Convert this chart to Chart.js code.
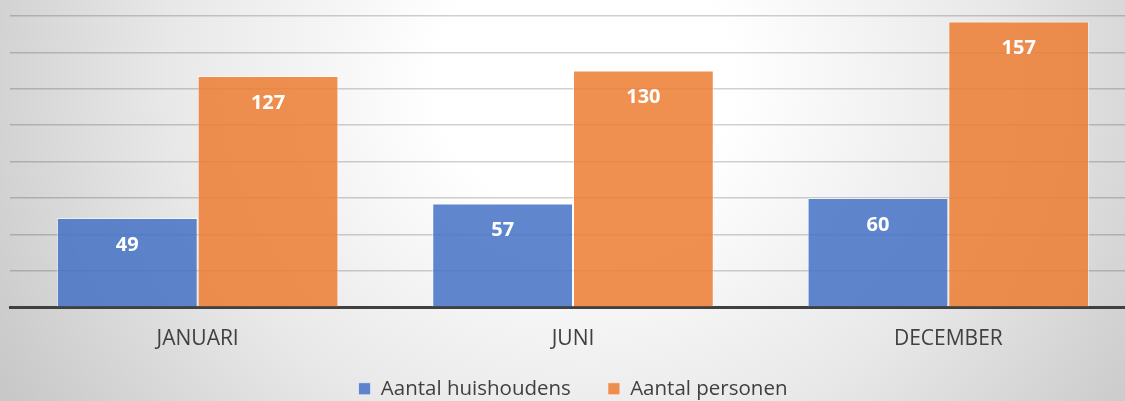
<!DOCTYPE html>
<html>
<head>
<meta charset="utf-8">
<script src="https://cdn.jsdelivr.net/npm/chart.js@4/dist/chart.umd.min.js"></script>
<style>
    html, body {
        margin: 0;
        padding: 0;
        width: 1125px;
        height: 401px;
        overflow: hidden;
    }
    body {
        background: radial-gradient(ellipse 60% 150% at 52% 20%, #ffffff 0%, #ffffff 22%, #e8e8e8 62%, #c8c8c8 100%);
    }
    #wrap {
        position: relative;
        width: 1136px;
        height: 401px;
    }
</style>
</head>
<body>
<div id="wrap"><canvas id="grafico"></canvas></div>
<script>
// datos
const maanden = ["JANUARI", "JUNI", "DECEMBER"];
const huishoudens = [49, 57, 60];
const personen = [127, 130, 157];
const reeksNamen = ["Aantal huishoudens", "Aantal personen"];

const FUENTE = "'Open Sans', 'Liberation Sans', sans-serif";

// etiquetas blancas dentro de las barras
const etiquetasBarras = {
    id: "etiquetasBarras",
    afterDatasetsDraw(chart) {
        const ctx = chart.ctx;
        ctx.save();
        ctx.fillStyle = "#ffffff";
        ctx.font = "bold 20px " + FUENTE;
        ctx.textAlign = "center";
        ctx.textBaseline = "middle";
        chart.data.datasets.forEach((ds, i) => {
            chart.getDatasetMeta(i).data.forEach((bar, j) => {
                ctx.fillText(ds.data[j], bar.x, bar.y + 27);
            });
        });
        ctx.restore();
    }
};

// leyenda un poco mas baja
const ajusteLeyenda = {
    id: "ajusteLeyenda",
    beforeInit(chart) {
        const fitOrig = chart.legend.fit;
        chart.legend.fit = function () {
            fitOrig.bind(chart.legend)();
            this.height -= 8;
        };
    }
};

new Chart(document.getElementById("grafico"), {
    type: "bar",
    data: {
        labels: maanden,
        datasets: [{
            label: reeksNamen[0],
            data: huishoudens,
            backgroundColor: "rgba(68,114,196,0.85)",
            borderColor: "rgba(255,255,255,0.55)",
            borderWidth: 1
        }, {
            label: reeksNamen[1],
            data: personen,
            backgroundColor: "rgba(237,125,49,0.85)",
            borderColor: "rgba(255,255,255,0.55)",
            borderWidth: 1
        }]
    },
    options: {
        responsive: true,
        maintainAspectRatio: false,
        animation: false,
        layout: {
            padding: { left: 10, right: 0, top: 16, bottom: 0 }
        },
        datasets: {
            bar: {
                categoryPercentage: 0.75,
                barPercentage: 1
            }
        },
        scales: {
            x: {
                grid: { display: false, drawTicks: false },
                border: { display: true, color: "#404040", width: 3 },
                ticks: {
                    color: "#404040",
                    font: { family: FUENTE, size: 21 },
                    padding: 19
                }
            },
            y: {
                min: 0,
                max: 160,
                ticks: { display: false, stepSize: 20 },
                border: { display: false },
                grid: { color: "rgba(0,0,0,0.18)", lineWidth: 1.5, drawTicks: false }
            }
        },
        plugins: {
            legend: {
                position: "bottom",
                labels: {
                    color: "#404040",
                    font: { family: FUENTE, size: 20.5 },
                    boxWidth: 12,
                    boxHeight: 12,
                    padding: 8,
                    generateLabels(chart) {
                        const items = Chart.defaults.plugins.legend.labels.generateLabels(chart);
                        items[0].text += "\u2003\u2005\u2009";
                        return items;
                    }
                }
            },
            tooltip: { enabled: false }
        }
    },
    plugins: [etiquetasBarras, ajusteLeyenda]
});
</script>
</body>
</html>
